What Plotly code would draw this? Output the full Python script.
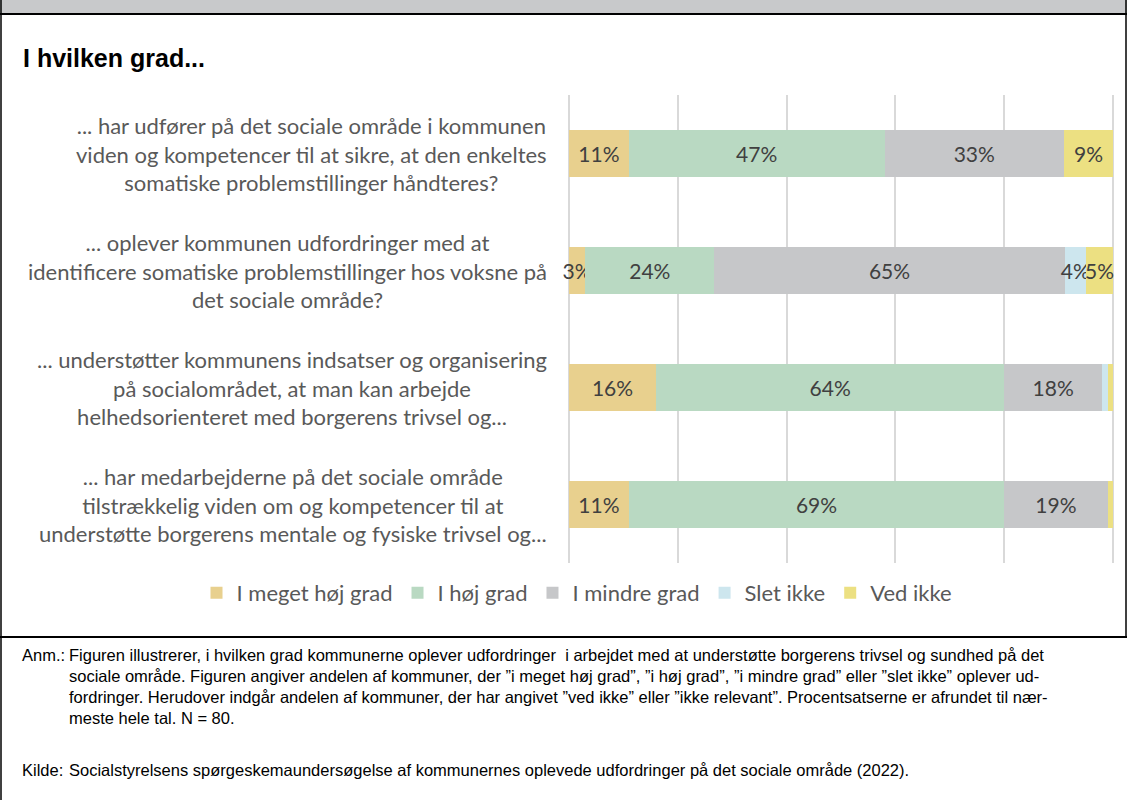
import plotly.graph_objects as go

categories = [
    "... har udfører på det sociale område i kommunen<br>viden og kompetencer til at sikre, at den enkeltes<br>somatiske problemstillinger håndteres?",
    "... oplever kommunen udfordringer med at<br>identificere somatiske problemstillinger hos voksne på<br>det sociale område?",
    "... understøtter kommunens indsatser og organisering<br>på socialområdet, at man kan arbejde<br>helhedsorienteret med borgerens trivsel og...",
    "... har medarbejderne på det sociale område<br>tilstrækkelig viden om og kompetencer til at<br>understøtte borgerens mentale og fysiske trivsel og...",
]
series_names = ["I meget høj grad", "I høj grad", "I mindre grad", "Slet ikke", "Ved ikke"]
meget_hoej = [11, 3, 16, 11]
hoej = [47, 24, 64, 69]
mindre = [33, 65, 18, 19]
slet_ikke = [0, 4, 1, 0]
ved_ikke = [9, 5, 1, 1]
series_values = [meget_hoej, hoej, mindre, slet_ikke, ved_ikke]
colors = ["#E8D08E", "#B9D9C2", "#C6C7C9", "#CDE6EE", "#ECE082"]

title_text = "I hvilken grad..."
note_label = "Anm.:"
note_lines = [
    "Figuren illustrerer, i hvilken grad kommunerne oplever udfordringer  i arbejdet med at understøtte borgerens trivsel og sundhed på det",
    "sociale område. Figuren angiver andelen af kommuner, der ”i meget høj grad”, ”i høj grad”, ”i mindre grad” eller ”slet ikke” oplever ud-",
    "fordringer. Herudover indgår andelen af kommuner, der har angivet ”ved ikke” eller ”ikke relevant”. Procentsatserne er afrundet til nær-",
    "meste hele tal. N = 80.",
]
source_label = "Kilde:"
source_text = "Socialstyrelsens spørgeskemaundersøgelse af kommunernes oplevede udfordringer på det sociale område (2022)."

W, H = 1127, 800
label_font = "Lato, Calibri, 'Open Sans', sans-serif"
arial_font = "'Liberation Sans', Arial, sans-serif"

fig = go.Figure()
for name, vals, col in zip(series_names, series_values, colors):
    fig.add_trace(go.Bar(
        y=categories, x=vals, name=name, orientation="h",
        marker=dict(color=col, line=dict(width=0)),
        text=[f"{v}%" if v >= 2 else "" for v in vals],
        textposition="inside", insidetextanchor="middle", textangle=0,
        textfont=dict(family=label_font, size=21, color="#404040"),
        cliponaxis=False,
        hoverinfo="skip",
    ))

annotations = []
for c in categories:
    annotations.append(dict(
        x=549 / W, xref="paper", y=c, yref="y", xanchor="right", yanchor="middle",
        align="center", text=c, showarrow=False,
        font=dict(family=label_font, size=22, color="#595959"),
    ))
annotations.append(dict(
    x=21 / W, y=1 - 58 / H, xref="paper", yref="paper", xanchor="left", yanchor="middle",
    text=f"<b>{title_text}</b>", showarrow=False,
    font=dict(family=arial_font, size=25, color="#000000"),
))
note_size = 16.5
annotations.append(dict(
    x=20 / W, y=1 - 655 / H, xref="paper", yref="paper", xanchor="left", yanchor="middle",
    text=note_label, showarrow=False, font=dict(family=arial_font, size=note_size, color="#000000"),
))
for i, ln in enumerate(note_lines):
    annotations.append(dict(
        x=67 / W, y=1 - (655 + 21 * i) / H, xref="paper", yref="paper", xanchor="left", yanchor="middle",
        text=ln, showarrow=False, font=dict(family=arial_font, size=note_size, color="#000000"),
    ))
annotations.append(dict(
    x=20 / W, y=1 - 770 / H, xref="paper", yref="paper", xanchor="left", yanchor="middle",
    text=source_label, showarrow=False, font=dict(family=arial_font, size=note_size, color="#000000"),
))
annotations.append(dict(
    x=67 / W, y=1 - 770 / H, xref="paper", yref="paper", xanchor="left", yanchor="middle",
    text=source_text, showarrow=False, font=dict(family=arial_font, size=note_size, color="#000000"),
))

shapes = [
    dict(type="rect", xref="paper", yref="paper", x0=0, x1=1, y0=1 - 14 / H, y1=1,
         fillcolor="#C8C9CB", line=dict(width=0), layer="below"),
    dict(type="line", xref="paper", yref="paper", x0=0, x1=1, y0=1 - 14 / H, y1=1 - 14 / H,
         line=dict(color="#000000", width=2)),
    dict(type="line", xref="paper", yref="paper", x0=1 / W, x1=1 / W, y0=0, y1=1,
         line=dict(color="#000000", width=1.5)),
    dict(type="line", xref="paper", yref="paper", x0=1 - 1 / W, x1=1 - 1 / W, y0=1 - 637 / H, y1=1,
         line=dict(color="#000000", width=1.5)),
    dict(type="line", xref="paper", yref="paper", x0=0, x1=1, y0=1 - 637 / H, y1=1 - 637 / H,
         line=dict(color="#000000", width=2)),
]

x0_px, x100_px = 569.0, 1113.0
pad = 0.4
ppu = (x100_px - x0_px) / 100.0

fig.update_layout(
    width=W, height=H,
    margin=dict(l=0, r=0, t=0, b=0),
    paper_bgcolor="white", plot_bgcolor="white",
    barmode="stack", barnorm="percent", bargap=0.59,
    uniformtext=dict(minsize=21, mode="show"),
    xaxis=dict(domain=[(x0_px - pad * ppu) / W, (x100_px + pad * ppu) / W], range=[-pad, 100 + pad],
               tickvals=[0, 20, 40, 60, 80, 100], showticklabels=False,
               showgrid=True, gridcolor="#D9D9D9", gridwidth=2, zeroline=False, fixedrange=True),
    yaxis=dict(domain=[1 - 563 / H, 1 - 95 / H], autorange="reversed", showticklabels=False,
               showgrid=False, zeroline=False, fixedrange=True),
    legend=dict(orientation="h", x=577 / W, xanchor="center", y=1 - 593 / H, yanchor="middle",
                font=dict(family=label_font, size=22, color="#595959"), traceorder="normal",
                itemclick=False, itemdoubleclick=False),
    showlegend=True,
    annotations=annotations, shapes=shapes,
)

fig.write_html("out.html", config={"displayModeBar": False},
               post_script="document.body.style.margin='0';document.body.style.overflow='hidden';")
